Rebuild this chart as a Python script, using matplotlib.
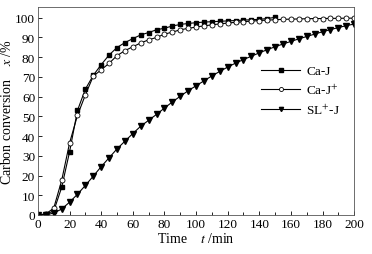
import matplotlib
matplotlib.use("Agg")
import matplotlib.pyplot as plt
from matplotlib.ticker import MultipleLocator

plt.rcParams['font.family'] = ['Liberation Serif', 'DejaVu Serif']
plt.rcParams['mathtext.fontset'] = 'stix'

t_caj = [0, 5, 10, 15, 20, 25, 30, 35, 40, 45, 50, 55, 60, 65, 70, 75, 80, 85, 90,
         95, 100, 105, 110, 115, 120, 125, 130, 135, 140, 145, 150]
caj = [0, 0.5, 2, 14, 32, 53, 63.8, 70.8, 76.2, 81.1, 84.9, 87.4, 89.4, 91.3, 92.5,
       93.9, 94.7, 95.8, 96.6, 97.1, 97.5, 97.8, 98.0, 98.2, 98.4, 98.6, 98.8, 99.0,
       99.2, 99.6, 100.2]

t_cajp = list(range(0, 205, 5))
cajp = [0, 0.5, 3.5, 17.5, 36.5, 50.5, 60.9, 70.4, 73.6, 76.9, 80.8, 83.3, 85.3, 87.2,
        88.8, 90.0, 91.7, 92.7, 93.9, 94.6, 95.3, 95.9, 96.4, 96.9, 97.3, 97.7, 98.0,
        98.3, 98.6, 98.8, 99.0, 99.2, 99.3, 99.4, 99.5, 99.6, 99.6, 99.7, 99.7, 99.8, 99.8]

t_sl = list(range(0, 205, 5))
sl = [0, 0, 1, 3, 6.5, 10.5, 15, 19.7, 24.5, 29, 33.5, 37.4, 41.3, 45, 48, 51, 54.2,
      57.3, 60.2, 63, 65.5, 68, 70.5, 72.8, 75, 77, 78.8, 80.5, 82.2, 83.8, 85.3, 86.7,
      88, 89.3, 90.5, 91.7, 92.9, 94, 95, 96, 96.8]

labels = ["Ca-J", "Ca-J$^{+}$", "SL$^{+}$-J"]

fig = plt.figure(figsize=(3.72, 2.55), dpi=100)
ax = fig.add_axes([0.102, 0.153, 0.85, 0.816])

ax.plot(t_caj, caj, '-', color='black', lw=0.8, marker='s', ms=3.4,
        mfc='black', mec='black', label=labels[0])
ax.plot(t_cajp, cajp, '-', color='black', lw=0.8, marker='o', ms=3.6,
        mfc='white', mec='black', mew=0.6, label=labels[1])
ax.plot(t_sl, sl, '-', color='black', lw=0.8, marker='v', ms=3.8,
        mfc='black', mec='black', label=labels[2])

ax.set_xlim(0, 200)
ax.set_ylim(0, 105.5)
ax.xaxis.set_major_locator(MultipleLocator(20))
ax.xaxis.set_minor_locator(MultipleLocator(10))
ax.yaxis.set_major_locator(MultipleLocator(10))
ax.tick_params(which='both', direction='in', top=False, right=False,
               labelsize=9.5, pad=2)
ax.tick_params(which='major', length=3, width=0.6)
ax.tick_params(which='minor', length=2, width=0.6)
for s in ax.spines.values():
    s.set_linewidth(0.6)
    s.set_color('#555555')

ax.set_xlabel("Time    $t$ /min", fontsize=10, labelpad=1)
ax.set_ylabel("Carbon conversion    $x$ /%", fontsize=10, labelpad=1)

leg = ax.legend(loc='center left', bbox_to_anchor=(0.707, 0.597), frameon=False,
                fontsize=9.5, handlelength=2.9, labelspacing=0.4, handletextpad=0.5,
                borderaxespad=0, borderpad=0, markerscale=0.8)

fig.savefig("out.png", dpi=100)
